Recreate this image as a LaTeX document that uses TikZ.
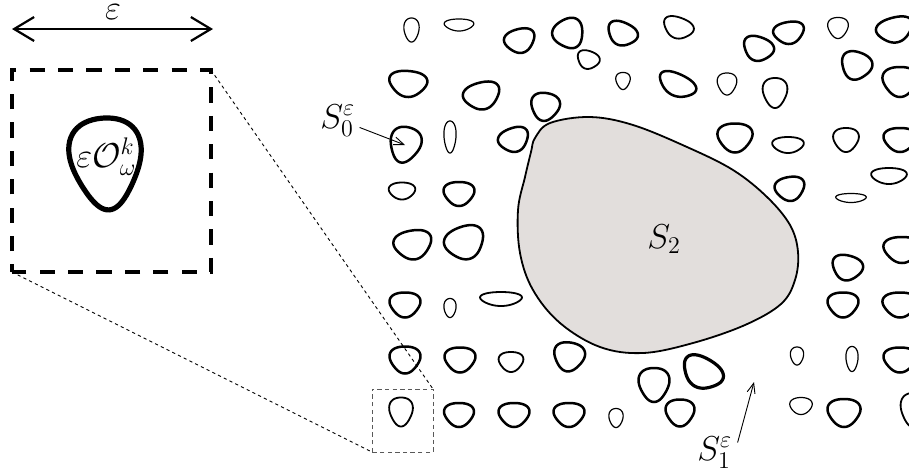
\documentclass[tikz,border=0pt]{standalone}
\usetikzlibrary{arrows.meta}
\definecolor{sgray}{RGB}{226,222,220}
\newcommand\blob[7][0.05]{%
  \draw[#7, shift={(#2,#3)}, rotate={-1*(#6)}, xscale=#4, yscale=#5]
    plot[smooth cycle, domain=0:355, samples=72, variable=\t]
    ({cos(\t)*(1-0.12*sin(\t))*(1-#1*sin(3*\t))}, {sin(\t)*(1-#1*sin(3*\t))-#1});}
\begin{document}
\begin{tikzpicture}[x=0.5pt,y=-0.5pt,
  bthick/.style={line width=1.25pt},
  bmed/.style={line width=0.9pt},
  bthin/.style={line width=0.6pt},
  lbl/.style={font=\fontsize{17.28}{20}\selectfont, inner sep=0pt, anchor=base west},
  dconn/.style={line width=0.45pt, dash pattern=on 1.6pt off 1.6pt},
  ptr/.style={line width=0.45pt, -{Straight Barb[length=5pt,width=4pt]}}]
\useasboundingbox (0,0) rectangle (909,472);
\clip (0,0) rectangle (909,472);

% ---- left panel ----
\coordinate (aL) at (12,29);
\coordinate (aR) at (213,29);
\draw[line width=0.6pt,
  {Straight Barb[length=10pt,width=12pt,line width=1.1pt]}-{Straight Barb[length=10pt,width=12pt,line width=1.1pt]}]
  (aL) -- (aR);
\node[lbl, anchor=base] (eps) at (113,19) {$\varepsilon$};

\coordinate (bigBL) at (12,272);
\coordinate (bigTR) at (211,70);
\coordinate (smBL) at (372,452);
\coordinate (smTR) at (433,389);
\draw[line width=1.7pt, dash pattern=on 7.6pt off 6.6pt, dash phase=3.8pt] (bigBL) rectangle (bigTR);
\draw[dconn] (bigTR) -- (smTR);
\draw[dconn] (bigBL) -- (smBL);
\draw[line width=0.5pt, draw=black!65, dash pattern=on 2.2pt off 1.6pt] (smBL) rectangle (smTR);

\draw[line width=2.6pt, shift={(106,164)}, rotate=4, xscale=34.5, yscale=46]
  plot[smooth cycle, domain=0:355, samples=72, variable=\t]
  ({cos(\t)*(1-0.22*sin(\t))*(1-0.04*sin(3*\t))}, {sin(\t)*(1-0.04*sin(3*\t))-0.04});
\node[lbl] (O) at (76,167) {$\varepsilon\mathcal{O}_\omega^k$};

% ---- big inclusion S2 ----
\draw[fill=sgray, line width=0.9pt] plot[smooth cycle, tension=0.6] coordinates {
 (535,138) (550,123) (590,117) (633,125) (687,147) (733,170) (767,197) (790,225)
 (798,252) (795,280) (781,304) (745,325) (693,343) (643,353) (600,347) (560,323)
 (533,290) (520,253) (518,210) (525,177) (531,152)};
\node[lbl] (S2) at (647,248) {$S_2$};

% ---- small inclusions ----
% row 1
\blob[0.03]{411.5}{30}{7.5}{12}{0}{bthin}
\blob[0.03]{459}{25}{14.5}{6}{0}{bthin}
\blob{520}{41}{15}{12}{-15}{bthick}
\blob{569}{34}{15}{15}{-30}{bthick}
\blob{588}{60}{11}{9}{20}{bmed}
\blob{622}{34}{15}{11.5}{25}{bthick}
\blob{678}{28}{15}{10.5}{20}{bmed}
\blob{758}{49}{15}{12}{20}{bthick}
\blob{789}{33}{15}{11}{-10}{bthick}
\blob{838}{28}{10}{10.5}{0}{bthin}
\blob{895}{30}{18}{12.5}{-15}{bthick}
% row 2
\blob{408}{84}{18.5}{13}{5}{bthick}
\blob{482}{96}{18}{13.5}{-15}{bthick}
\blob{545}{107}{14}{14}{10}{bthick}
\blob{623}{81}{7}{8.5}{0}{bthin}
\blob[0.04]{677}{85}{19}{11}{25}{bthick}
\blob{727}{84}{9.5}{11}{0}{bthin}
\blob{775}{93}{12}{15}{0}{bmed}
\blob{856}{66}{15}{14}{20}{bthick}
\blob{900}{82}{17}{15}{0}{bthick}
% row 3
\blob{405}{145}{15}{18}{15}{bthick}
\blob[0.02]{450}{137}{6}{16}{0}{bthin}
\blob{514}{140}{15}{12}{-20}{bthick}
\blob{735}{138}{17}{14.5}{0}{bthick}
\blob[0.03]{788}{145}{15.5}{8}{0}{bmed}
\blob{846}{140}{12.5}{12}{0}{bmed}
\blob{900}{140}{16}{12}{0}{bthick}
% row 4
\blob[0.03]{402}{191}{13}{8.5}{0}{bmed}
\blob{459}{194}{15}{12}{0}{bthick}
\blob{790}{189}{14.5}{12}{-10}{bthick}
\blob[0.03]{889}{176}{17.5}{8}{0}{bmed}
\blob[0.02]{851}{198}{15}{4.5}{0}{bthin}
% row 5
\blob{413}{245}{18.5}{14.5}{-10}{bthick}
\blob{465}{243}{19.5}{16.5}{-20}{bthick}
\blob{847}{268}{15}{12.5}{15}{bthick}
\blob{902}{250}{18}{13}{0}{bthick}
% row 6
\blob{405}{305}{15}{12.5}{0}{bthick}
\blob[0.02]{450}{308}{6}{9.5}{0}{bthin}
\blob[0.03]{501}{299}{20.5}{7}{0}{bmed}
\blob{843}{305}{15}{12.5}{0}{bthick}
\blob{900}{305}{17}{12.5}{0}{bthick}
% row 7
\blob{405}{360}{15}{13.5}{0}{bthick}
\blob{460}{360}{15}{12.5}{0}{bthick}
\blob{511}{362}{12}{10}{0}{bmed}
\blob{569}{357}{15}{14.5}{10}{bthick}
\blob[0.03]{797}{356}{6.5}{9}{0}{bthin}
\blob[0.02]{852}{359}{6}{12.5}{0}{bthin}
\blob{900}{360}{16}{12.5}{0}{bthick}
% row 8
\blob{401}{412}{11.5}{14.5}{0}{bmed}
\blob{459}{415}{14.5}{12}{0}{bthick}
\blob{514}{415}{15}{12}{0}{bthick}
\blob{569}{415}{15}{12}{0}{bthick}
\blob[0.03]{616}{418}{7}{9.5}{0}{bthin}
\blob{680}{413}{14}{13.5}{0}{bthick}
\blob{654}{385}{15}{17}{0}{bthick}
\blob{702}{373}{20.5}{15}{30}{line width=1.6pt}
\blob[0.03]{801}{406}{11}{8.5}{0}{bthin}
\blob{844}{413}{16}{14}{0}{bthick}
\blob{913}{410}{12}{17}{0}{bmed}

% ---- labels with pointers ----
\node[lbl] (S0) at (320,128) {$S_0^\varepsilon$};
\coordinate (s0tip) at (405,145);
\draw[ptr] ([shift={(4,7)}]S0.east) -- (s0tip);

\node[lbl] (S1) at (697,460) {$S_1^\varepsilon$};
\coordinate (s1tip) at (754,382);
\draw[ptr] ([shift={(5,-10)}]S1.east) -- (s1tip);
\end{tikzpicture}
\end{document}
